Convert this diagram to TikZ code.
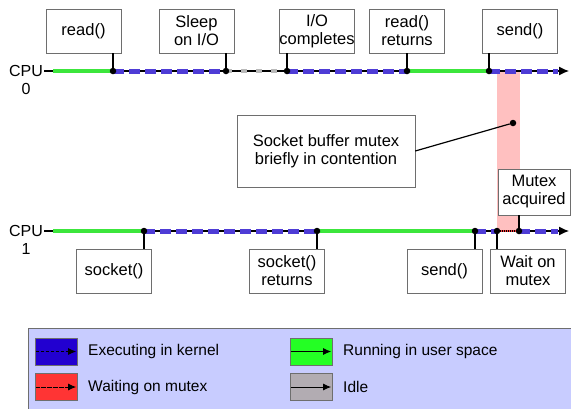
\documentclass[tikz,border=0pt]{standalone}
\usepackage{fontspec}
\setmainfont{Liberation Sans}
\usetikzlibrary{arrows.meta}
\definecolor{kblue}{RGB}{78,60,214}
\definecolor{ugreen}{RGB}{60,230,60}
\definecolor{idlegray}{RGB}{185,185,185}
\definecolor{mutexred}{RGB}{255,60,60}
\definecolor{contpink}{RGB}{255,192,192}
\definecolor{legendbg}{RGB}{200,204,255}
\definecolor{swblue}{RGB}{34,0,208}
\definecolor{swgreen}{RGB}{36,255,36}
\definecolor{swred}{RGB}{255,52,52}
\definecolor{swgray}{RGB}{178,172,178}
\definecolor{boxline}{RGB}{110,110,110}
\tikzset{
  evbox/.style={draw=boxline, fill=white, minimum width=75pt, minimum height=44pt,
    inner sep=0pt, align=center, font=\fontsize{16.5}{18}\selectfont},
  baseln/.style={black, line width=1.2pt},
  userseg/.style={ugreen, line width=4pt},
  kernseg/.style={kblue, line width=5pt, dash pattern=on 11pt off 5pt},
  idleseg/.style={idlegray, line width=4.5pt, dash pattern=on 6pt off 9pt},
  waitseg/.style={mutexred, line width=2.5pt, dash pattern=on 1pt off 1pt},
  evdot/.style={circle, fill=black, inner sep=0pt, minimum size=6.5pt},
  tick/.style={black, line width=1.2pt},
  swatch/.style={draw=boxline, minimum width=42pt, minimum height=27pt, inner sep=0pt},
  legtext/.style={anchor=west, inner sep=0pt, font=\fontsize{15.5}{18}\selectfont},
  cpulbl/.style={align=center, inner sep=0pt, font=\fontsize{16}{18}\selectfont}
}
\begin{document}
\begin{tikzpicture}[x=1pt, y=-1pt]
\useasboundingbox (0,0) rectangle (571,408);
\clip (0,0) rectangle (571,408);

% contention band between the two CPUs
\fill[contpink] (497,72) rectangle (520,231);

% CPU labels
\node[cpulbl] (cpu0) at (26,80) {CPU\\0};
\node[cpulbl] (cpu1) at (26,240) {CPU\\1};

% timeline ends
\coordinate (s0) at (44,71);
\coordinate (e0) at (569,71);
\coordinate (u0) at (53,71);
\coordinate (k0) at (558,71);
\coordinate (s1) at (44,231);
\coordinate (e1) at (569,231);
\coordinate (u1) at (53,231);
\coordinate (k1e) at (558,231);

% event points
\coordinate (a1) at (113,71);
\coordinate (a2) at (226,71);
\coordinate (a3) at (287,71);
\coordinate (a4) at (407,71);
\coordinate (a5) at (489,71);
\coordinate (b1) at (144,231);
\coordinate (b2) at (317,231);
\coordinate (b3) at (475,231);
\coordinate (b4) at (497,231);
\coordinate (b5) at (519,231);

% CPU 0 timeline
\draw[baseln, -{Latex[length=10pt, width=9pt]}] (s0) -- (e0);
\draw[userseg] (u0) -- (a1);
\draw[kernseg] (a1) -- (a2);
\draw[idleseg] (a2) -- (a3);
\draw[kernseg] (a3) -- (a4);
\draw[userseg] (a4) -- (a5);
\draw[kernseg] (a5) -- (k0);

% CPU 1 timeline
\draw[baseln, -{Latex[length=10pt, width=9pt]}] (s1) -- (e1);
\draw[userseg] (u1) -- (b1);
\draw[kernseg] (b1) -- (b2);
\draw[userseg] (b2) -- (b3);
\draw[kernseg] (b3) -- (b4);
\draw[waitseg] (b4) -- (b5);
\draw[kernseg] (b5) -- (k1e);

% event boxes, CPU 0
\node[evbox] (r0) at (83.5,31) {read()};
\node[evbox] (r1) at (196.5,31) {Sleep\\on I/O};
\node[evbox] (r2) at (317,31) {I/O\\completes};
\node[evbox] (r3) at (407,31) {read()\\returns};
\node[evbox] (r4) at (520,31) {send()};

% event boxes, CPU 1
\node[evbox] (q1) at (114,271) {socket()};
\node[evbox] (q2) at (287,271) {socket()\\returns};
\node[evbox] (q3) at (444.5,271) {send()};
\node[evbox] (q4) at (528,271) {Wait on\\mutex};
\node[evbox, minimum width=72pt, minimum height=46pt] (q5) at (534,192) {Mutex\\acquired};

% box-to-event ticks
\draw[tick] (a1) -- (a1 |- r0.south);
\draw[tick] (a2) -- (a2 |- r1.south);
\draw[tick] (a3) -- (a3 |- r2.south);
\draw[tick] (a4) -- (a4 |- r3.south);
\draw[tick] (a5) -- (a5 |- r4.south);
\draw[tick] (b1) -- (b1 |- q1.north);
\draw[tick] (b2) -- (b2 |- q2.north);
\draw[tick] (b3) -- (b3 |- q3.north);
\draw[tick] (b4) -- (b4 |- q4.north);
\draw[tick] (b5) -- (b5 |- q5.south);

% event dots
\foreach \d in {a1,a2,a3,a4,a5,b1,b2,b3,b4,b5}
  \node[evdot] at (\d) {};

% contention callout
\node[evbox, minimum width=178pt, minimum height=72pt] (note) at (326,151)
  {Socket buffer mutex\\briefly in contention};
\node[evdot] (pin) at (513,123) {};
\draw[tick] (note.east) -- (pin);

% legend
\fill[legendbg] (28,328) rectangle (580,420);
\draw[boxline, line width=0.8pt] (580,328) -- (28,328) -- (28,420);
\node[swatch, fill=swblue] (k1) at (56,351.5) {};
\node[swatch, fill=swred] (k2) at (56,387) {};
\node[swatch, fill=swgreen] (k3) at (311,351.5) {};
\node[swatch, fill=swgray] (k4) at (311,387) {};
\draw[black, line width=1pt, dash pattern=on 3pt off 2pt, -{Latex[length=8pt, width=7pt]}]
  ([xshift=1pt]k1.west) -- ([xshift=-1pt]k1.east);
\draw[black, line width=1pt, dash pattern=on 0.6pt off 0.6pt, -{Latex[length=8pt, width=7pt]}]
  ([xshift=1pt]k2.west) -- ([xshift=-1pt]k2.east);
\draw[black, line width=1pt, -{Latex[length=8pt, width=7pt]}]
  ([xshift=1pt]k3.west) -- ([xshift=-1pt]k3.east);
\draw[black, line width=1pt, -{Latex[length=8pt, width=7pt]}]
  ([xshift=1pt]k4.west) -- ([xshift=-1pt]k4.east);
\node[legtext] (t1) at (88,351.5) {Executing in kernel};
\node[legtext] (t2) at (88,387) {Waiting on mutex};
\node[legtext] (t3) at (343,351.5) {Running in user space};
\node[legtext] (t4) at (343,387) {Idle};
\end{tikzpicture}
\end{document}
